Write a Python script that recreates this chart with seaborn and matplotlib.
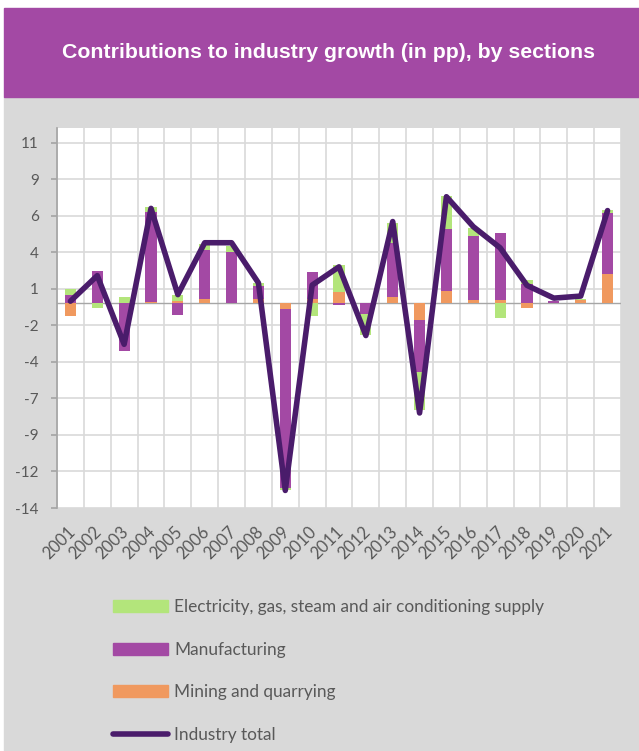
import numpy as np
import matplotlib
matplotlib.use("Agg")
import matplotlib.pyplot as plt
from matplotlib.patches import Rectangle, Patch
from matplotlib.lines import Line2D
from matplotlib.transforms import ScaledTranslation
import seaborn as sns

# data (pp)
years = [str(y) for y in range(2001, 2022)]
mining = [-0.84, 0.0, 0.0, 0.11, 0.16, 0.27, 0.0, 0.32, -0.35, 0.27, 0.75,
          0.0, 0.43, -1.16, 0.86, 0.25, 0.23, -0.34, 0.0, 0.20, 2.02]
manufacturing = [0.55, 2.2, -3.27, 6.17, -0.77, 3.38, 3.5, 0.84, -12.25, 1.86, -0.14,
                 -0.73, 3.68, -3.56, 4.23, 4.38, 4.61, 1.32, 0.14, 0.04, 4.15]
electricity = [0.45, -0.32, 0.45, 0.30, 0.43, 0.41, 0.40, 0.23, -0.15, -0.89, 1.89,
               -1.41, 1.38, -2.58, 2.23, 0.55, -1.0, 0.27, 0.03, 0.08, 0.23]
industry_total = [0.15, 1.9, -2.8, 6.5, 0.6, 4.15, 4.15, 1.4, -12.8, 1.25, 2.5,
                  -2.2, 5.6, -7.5, 7.3, 5.25, 3.8, 1.23, 0.36, 0.5, 6.35]

labels = ["Electricity, gas, steam and air conditioning supply",
          "Manufacturing", "Mining and quarrying", "Industry total"]

c_green = "#B3E57B"
c_purple = "#A349A4"
c_orange = "#F0995F"
c_line = "#4A1C6B"
c_text = "#595959"
c_grid = "#D9D9D9"

sns.set_theme(style="white")
plt.rcParams['font.family'] = ['Lato', 'DejaVu Sans']

fig = plt.figure(figsize=(6.39, 7.51), dpi=100)
fig.patch.set_facecolor("white")
W, H = 639, 751

# grey panel + purple banner (behind the axes)
fig.patches.append(Rectangle((4 / W, 0), 1, 1 - 97 / H, transform=fig.transFigure,
                             color="#D9D9D9", zorder=-10))
fig.patches.append(Rectangle((4 / W, 1 - 97 / H), 1, 89 / H, transform=fig.transFigure,
                             color=c_purple, zorder=-10))
fig.text(328 / W, 1 - 53 / H, "Contributions to industry growth (in pp), by sections",
         ha="center", va="center", color="white", fontsize=15.3, fontweight="bold",
         family=["Liberation Sans", "DejaVu Sans"])

ax = fig.add_axes([57 / W, 1 - 508 / H, 564 / W, 380 / H])
ax.set_zorder(5)
ax.set_facecolor("white")

# stacked columns, positives up from zero and negatives down
stack = [(mining, c_orange), (manufacturing, c_purple), (electricity, c_green)]
pos_base = np.zeros(len(years))
neg_base = np.zeros(len(years))
for vals, col in stack:
    v = np.array(vals)
    bottom = np.where(v >= 0, pos_base, neg_base)
    sns.barplot(x=years, y=v, bottom=bottom, color=col, saturation=1, width=0.41,
                errorbar=None, linewidth=0, ax=ax, zorder=3)
    pos_base += np.clip(v, 0, None)
    neg_base += np.clip(v, None, 0)

sns.lineplot(x=np.arange(len(years)), y=industry_total, color=c_line, linewidth=4,
             solid_capstyle="round", solid_joinstyle="round", ax=ax, zorder=5)

ax.axhline(0, color="#A6A6A6", lw=1, zorder=2)

yt = np.arange(-14, 11.1, 2.5)
ax.set_yticks(yt)
ax.set_yticklabels([str(int(np.sign(t) * np.floor(abs(t) + 0.5))) for t in yt])
ax.set_ylim(-14, 12)
ax.set_xlim(-0.5, len(years) - 0.5)
ax.set_xticks(np.arange(len(years)))
ax.set_xticklabels(years, rotation=45, ha="right", va="center", rotation_mode="anchor")
ax.set_xticks(np.arange(-0.5, len(years), 1), minor=True)
ax.grid(axis="y", which="major", color=c_grid, lw=1.2)
ax.grid(axis="x", which="minor", color=c_grid, lw=1.2)
ax.grid(axis="x", which="major", visible=False)
ax.set_axisbelow(True)
ax.set_xlabel("")
ax.set_ylabel("")

for s in ["top", "right", "bottom"]:
    ax.spines[s].set_visible(False)
ax.spines["left"].set_color("#A6A6A6")

ax.tick_params(axis="y", left=True, length=4, color="#A6A6A6", labelcolor=c_text,
               labelsize=11, pad=9)
ax.tick_params(axis="x", which="both", length=0, labelcolor=c_text, labelsize=12, pad=15)
for lab in ax.get_xticklabels():
    lab.set_transform(lab.get_transform() + ScaledTranslation(2 / 100, 0, fig.dpi_scale_trans))

handles = [Patch(color=c_green, label=labels[0]),
           Patch(color=c_purple, label=labels[1]),
           Patch(color=c_orange, label=labels[2]),
           Line2D([0], [0], color=c_line, lw=4, solid_capstyle="round", label=labels[3])]
fig.legend(handles=handles, loc="upper left", bbox_to_anchor=(113 / W, 1 - 599 / H),
           frameon=False, fontsize=12.4, labelcolor=c_text, handlelength=3.2,
           handleheight=0.7, handletextpad=0.35, labelspacing=1.55,
           borderpad=0, borderaxespad=0)

fig.savefig("out.png", dpi=100)
